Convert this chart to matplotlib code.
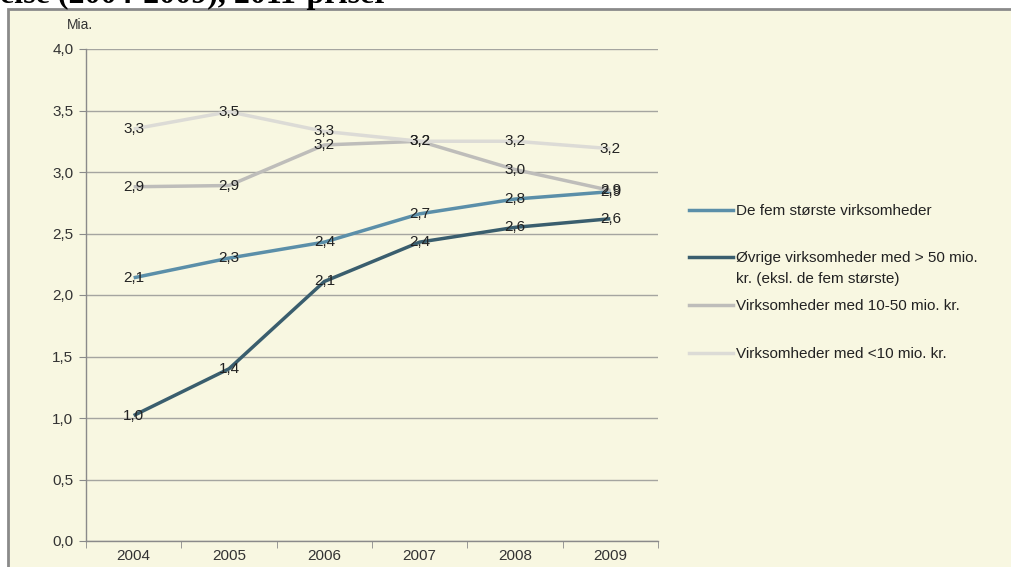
import matplotlib
matplotlib.use("Agg")
import matplotlib.pyplot as plt
from matplotlib.patches import Rectangle
from matplotlib.lines import Line2D

# data (mia. kr.)
years = ["2004", "2005", "2006", "2007", "2008", "2009"]
top5 = [2.14, 2.30, 2.43, 2.66, 2.78, 2.84]
other50 = [1.02, 1.40, 2.11, 2.43, 2.55, 2.62]
mid10_50 = [2.88, 2.89, 3.22, 3.25, 3.02, 2.85]
small10 = [3.35, 3.49, 3.33, 3.25, 3.25, 3.19]

# value labels as printed on the chart
top5_lbl = ["2,1", "2,3", "2,4", "2,7", "2,8", "2,9"]
other50_lbl = ["1,0", "1,4", "2,1", "2,4", "2,6", "2,6"]
mid10_50_lbl = ["2,9", "2,9", "3,2", "3,2", "3,0", "2,9"]
small10_lbl = ["3,3", "3,5", "3,3", "3,2", "3,2", "3,2"]

labels = [
    "De fem største virksomheder",
    "Øvrige virksomheder med > 50 mio.",
    "Virksomheder med 10-50 mio. kr.",
    "Virksomheder med <10 mio. kr.",
]
label2_cont = "kr. (eksl. de fem største)"
series = [top5, other50, mid10_50, small10]
series_lbl = [top5_lbl, other50_lbl, mid10_50_lbl, small10_lbl]
colors = ["#5B8FA9", "#3A5E6E", "#BEBDBA", "#DCDBD6"]

W, H = 1012, 567
plt.rcParams["font.family"] = ["Liberation Sans", "DejaVu Sans"]
fig = plt.figure(figsize=(W / 100, H / 100), dpi=100, facecolor="white")

# chart frame
fig.patches.append(Rectangle((8 / W, -0.1), 1.1, (H - 9) / H + 0.1,
                             transform=fig.transFigure, facecolor="#F8F7E1",
                             edgecolor="#8A8A8A", linewidth=2, zorder=-5))

# cut-off title above the frame
fig.text(0 / W, 1 - 3.5 / H, "else (2004-2009), 2011-priser",
         family=["Liberation Serif", "DejaVu Serif"], weight="bold",
         fontsize=23, va="baseline", ha="left", color="black")

ax = fig.add_axes([86 / W, (H - 541) / H, (658 - 86) / W, (541 - 49) / H])
ax.set_facecolor("none")
x = list(range(len(years)))

for vals, col in zip(series, colors):
    ax.plot(x, vals, color=col, linewidth=2.5, solid_capstyle="butt", zorder=3)
for vals, lbls in zip(series, series_lbl):
    for xi, v, s in zip(x, vals, lbls):
        ax.text(xi, v, s, ha="center", va="center",
                fontsize=11, color="#222222", zorder=4)

ax.set_xlim(-0.5, len(years) - 0.5)
ax.set_ylim(0, 4.0)
yt = [i * 0.5 for i in range(9)]
ax.set_yticks(yt)
ax.set_yticklabels([f"{v:.1f}".replace(".", ",") for v in yt])
ax.set_xticks(x)
ax.set_xticklabels(years)
ax.set_xticks([i - 0.5 for i in range(len(years) + 1)], minor=True)
ax.tick_params(axis="x", which="major", length=0, pad=6, labelsize=11, labelcolor="#333333")
ax.tick_params(axis="x", which="minor", length=5, color="#8A8A8A", direction="out")
ax.tick_params(axis="y", length=5, color="#8A8A8A", labelsize=11, labelcolor="#333333", pad=4)
ax.grid(axis="y", color="#A5A5A0", linewidth=1, zorder=1)
for s in ["top", "right"]:
    ax.spines[s].set_visible(False)
for s in ["left", "bottom"]:
    ax.spines[s].set_color("#8A8A8A")
    ax.spines[s].set_linewidth(1)

fig.text(80 / W, 1 - 25 / H, "Mia.", fontsize=10, color="#333333", ha="center", va="center")

# legend, one entry at a time to get the spacing of the original
leg_y = [211, 258, 306, 354]
for col, lab, yy in zip(colors, labels, leg_y):
    h = Line2D([], [], color=col, linewidth=2.5)
    lg = fig.legend([h], [lab], loc="center left", frameon=False, fontsize=11,
                    bbox_to_anchor=(689 / W, 1 - yy / H), handlelength=2.9,
                    handletextpad=0.15, borderpad=0, borderaxespad=0)
    for t in lg.get_texts():
        t.set_color("#222222")
fig.text(736 / W, 1 - 279 / H, label2_cont, fontsize=11, color="#222222",
         ha="left", va="center")

fig.savefig("out.png", dpi=100, facecolor="white")
